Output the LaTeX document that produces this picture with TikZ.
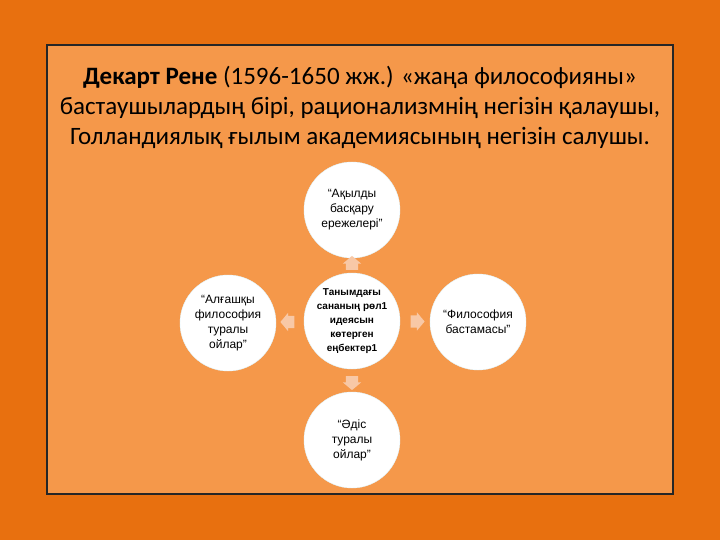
\documentclass[tikz,border=0pt]{standalone}
\usepackage{fontspec}
\setmainfont{Carlito}
\newfontfamily\circfont{Liberation Sans}
\usetikzlibrary{calc}
\usetikzlibrary{shapes.arrows}

\definecolor{outerorange}{HTML}{E8700F}
\definecolor{innerorange}{HTML}{F5984A}
\definecolor{palearrow}{HTML}{F8C8A6}

\begin{document}
\begin{tikzpicture}[x=1pt, y=-1pt,
  idea/.style={circle, fill=white, draw=white!88!cyan, minimum size=96pt, inner sep=0pt, align=center, font=\circfont\fontsize{12}{15}\selectfont},
  blockarrow/.style={single arrow, fill=palearrow, minimum height=14pt, minimum width=18pt, single arrow head extend=3pt, single arrow tip angle=100, inner xsep=0pt, inner ysep=6pt}]
\fill[outerorange] (0,0) rectangle (720,540);
\filldraw[fill=innerorange, draw=black!85, line width=1.6pt] (47,45) rectangle (673,494);
\node[align=center, font=\fontsize{25}{30}\selectfont] (title) at (360,107)
 {\textbf{Декарт Рене} (1596-1650 жж.) «жаңа философияны»\\
  бастаушылардың бірі, рационализмнің негізін қалаушы,\\
  Голландиялық ғылым академиясының негізін салушы.};
% circles
\node[idea] (rules) at (352,210) {“Ақылды\\басқару\\ережелері”};
\node[idea, font=\circfont\bfseries\fontsize{10}{14}\selectfont] (works) at (352,321)
 {Танымдағы\\сананың рөл1\\идеясын\\көтерген\\еңбектер1};
\node[idea] (first) at (228,323) {“Алғашқы\\философия\\туралы\\ойлар”};
\node[idea] (start) at (478,322) {“Философия\\бастамасы”};
\node[idea] (method) at (352,440) {“Әдіс\\туралы\\ойлар”};
% arrows
\node[blockarrow, rotate=90] (toRules) at ($(works.north)!0.5!(rules.south)$) {};
\node[blockarrow, rotate=180] (toFirst) at ($(works.west)!0.5!(first.east)$) {};
\node[blockarrow] (toStart) at ($(works.east)!0.5!(start.west)$) {};
\node[blockarrow, rotate=-90] (toMethod) at ($(works.south)!0.5!(method.north)$) {};
\end{tikzpicture}
\end{document}
